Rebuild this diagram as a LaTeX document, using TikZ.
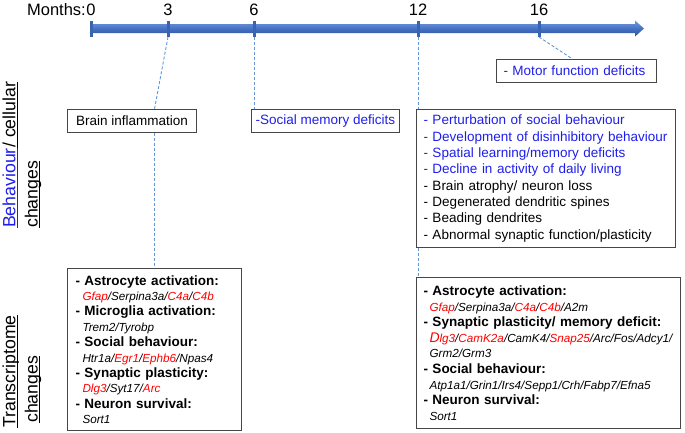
\documentclass[tikz,border=0pt]{standalone}
\usepackage{fontspec}
\setmainfont{Liberation Sans}
\usetikzlibrary{calc}
\definecolor{tlblue}{RGB}{68,114,196}
\definecolor{tldark}{RGB}{45,82,150}
\definecolor{tllight}{RGB}{115,155,220}
\definecolor{tickblue}{RGB}{58,100,175}
\definecolor{dashblue}{RGB}{100,150,215}
\definecolor{txtblue}{RGB}{30,30,235}
\definecolor{txtred}{RGB}{255,0,0}
\definecolor{boxgray}{RGB}{70,70,70}
\newcommand{\redg}[1]{\textcolor{txtred}{#1}}
\newcommand{\myhead}{\fontsize{13.5}{15.5}\selectfont\bfseries}
\newcommand{\mygene}{\fontsize{11.7}{15.5}\selectfont\itshape}
\tikzset{
  infobox/.style={draw=boxgray, line width=1pt, rectangle, inner xsep=7pt, inner ysep=0pt,
    align=left, anchor=north west, font=\fontsize{13.5}{16.3}\selectfont},
  smallbox/.style={draw=boxgray, line width=1pt, rectangle, inner sep=0pt,
    anchor=north west, minimum height=23pt, font=\fontsize{13.5}{16}\selectfont},
  conn/.style={draw=dashblue, line width=0.9pt, dash pattern=on 3pt off 2pt},
  tickmark/.style={draw=tickblue, line width=3pt},
  num/.style={anchor=base, inner sep=0pt, font=\fontsize{16.5}{18}\selectfont},
  vlab/.style={rotate=90, anchor=base west, inner sep=0pt, font=\fontsize{17.7}{20}\selectfont},
  uline/.style={line width=1.1pt}
}
\begin{document}
\begin{tikzpicture}[x=1pt,y=-1pt]
\useasboundingbox (0,0) rectangle (685,432);

% timeline
\shade[top color=tllight, bottom color=tldark, middle color=tlblue]
  (91,24) -- (635,24) -- (635,20.5) -- (644,28.5) -- (635,36.5) -- (635,33) -- (91,33) -- cycle;
\coordinate (t0) at (91,37);
\coordinate (t3) at (168,37);
\coordinate (t6) at (254,37);
\coordinate (t12) at (418,37);
\coordinate (t16) at (539,37);
\draw[tickmark] (91,21) -- (t0);
\draw[tickmark] (168,21) -- (t3);
\draw[tickmark] (254,21) -- (t6);
\draw[tickmark] (418,21) -- (t12);
\draw[tickmark] (539,21) -- (t16);
\node[num, anchor=base east] (months) at (86,15) {Months:};
\node[num] (n0) at (91,15) {0};
\node[num] (n3) at (168,15) {3};
\node[num] (n6) at (254,15) {6};
\node[num] (n12) at (418,15) {12};
\node[num] (n16) at (539,15) {16};

% behaviour boxes
\node[smallbox, minimum width=160pt, align=left, text width=146pt, inner xsep=7pt] (motor) at (496,59)
  {\textcolor{txtblue}{- Motor function deficits}};
\node[smallbox, minimum width=129pt] (brain) at (67,109) {Brain inflammation};
\node[smallbox, minimum width=148pt] (social) at (251,109) {\textcolor{txtblue}{-Social memory deficits}};
\node[infobox, minimum width=259pt, text width=245pt, minimum height=138pt] (beh) at (416,109)
  {{\color{txtblue}- Perturbation of social behaviour}\\
   {\color{txtblue}- Development of disinhibitory behaviour}\\
   {\color{txtblue}- Spatial learning/memory deficits}\\
   {\color{txtblue}- Decline in activity of daily living}\\
   - Brain atrophy/ neuron loss\\
   - Degenerated dendritic spines\\
   - Beading dendrites\\
   - Abnormal synaptic function/plasticity};

% transcriptome boxes
\node[infobox, font=\fontsize{13.5}{15.4}\selectfont, inner xsep=8pt, minimum width=174pt, text width=158pt, minimum height=162pt] (trL) at (67,268)
  {{\myhead - Astrocyte activation:}\\
   \hspace*{7pt}{\mygene \redg{Gfap}/Serpina3a/\redg{C4a}/\redg{C4b}}\\
   {\myhead - Microglia activation:}\\
   \hspace*{7pt}{\mygene Trem2/Tyrobp}\\
   {\myhead - Social behaviour:}\\
   \hspace*{7pt}{\mygene Htr1a/\redg{Egr1}/\redg{Ephb6}/Npas4}\\
   {\myhead - Synaptic plasticity:}\\
   \hspace*{7pt}{\mygene \redg{Dlg3}/Syt17/\redg{Arc}}\\
   {\myhead - Neuron survival:}\\
   \hspace*{7pt}{\mygene Sort1}};
\node[infobox, font=\fontsize{13.5}{15.6}\selectfont, minimum width=264pt, text width=250pt, minimum height=151pt] (trR) at (416,277)
  {{\myhead - Astrocyte activation:}\\
   \hspace*{6pt}{\mygene \redg{Gfap}/Serpina3a/\redg{C4a}/\redg{C4b}/A2m}\\
   {\myhead - Synaptic plasticity/ memory deficit:}\\
   \hspace*{6pt}{\mygene \redg{{\fontsize{14}{15.6}\selectfont D}lg3}/\redg{CamK2a}/CamK4/\redg{Snap25}/Arc/Fos/Adcy1/}\\
   \hspace*{6pt}{\mygene Grm2/Grm3}\\
   {\myhead - Social behaviour:}\\
   \hspace*{6pt}{\mygene Atp1a1/Grin1/Irs4/Sepp1/Crh/Fabp7/Efna5}\\
   {\myhead - Neuron survival:}\\
   \hspace*{6pt}{\mygene Sort1}};

% connectors
\draw[conn] (t3) -- (brain.north -| trL.north);
\draw[conn] (brain.south -| trL.north) -- (trL.north);
\draw[conn] (t6) -- (t6 |- social.north);
\draw[conn] (t12) -- (t12 |- beh.north);
\draw[conn] (t12 |- beh.south) -- (t12 |- trR.north);
\draw[conn] (t16) -- ([xshift=-4pt]motor.north);

% vertical labels
\node[vlab, text=txtblue] (bh1) at (15.5,228) {Behaviour};
\node[vlab] (bh2) at (bh1.base east) {/ cellular};
\node[vlab] (bh3) at (37.5,228) {changes};
\draw[uline, txtblue] ([xshift=2pt]bh1.base west) -- ([xshift=2pt]bh1.base east);
\draw[uline] ([xshift=2pt]bh2.base west) -- ([xshift=2pt]bh2.base east);
\draw[uline] ([xshift=2pt]bh3.base west) -- ([xshift=2pt]bh3.base east);
\node[vlab] (tr1) at (15.5,428) {Transcriptome};
\node[vlab] (tr2) at (37.5,423) {changes};
\draw[uline] ([xshift=2pt]tr1.base west) -- ([xshift=2pt]tr1.base east);
\draw[uline] ([xshift=2pt]tr2.base west) -- ([xshift=2pt]tr2.base east);
\end{tikzpicture}
\end{document}
